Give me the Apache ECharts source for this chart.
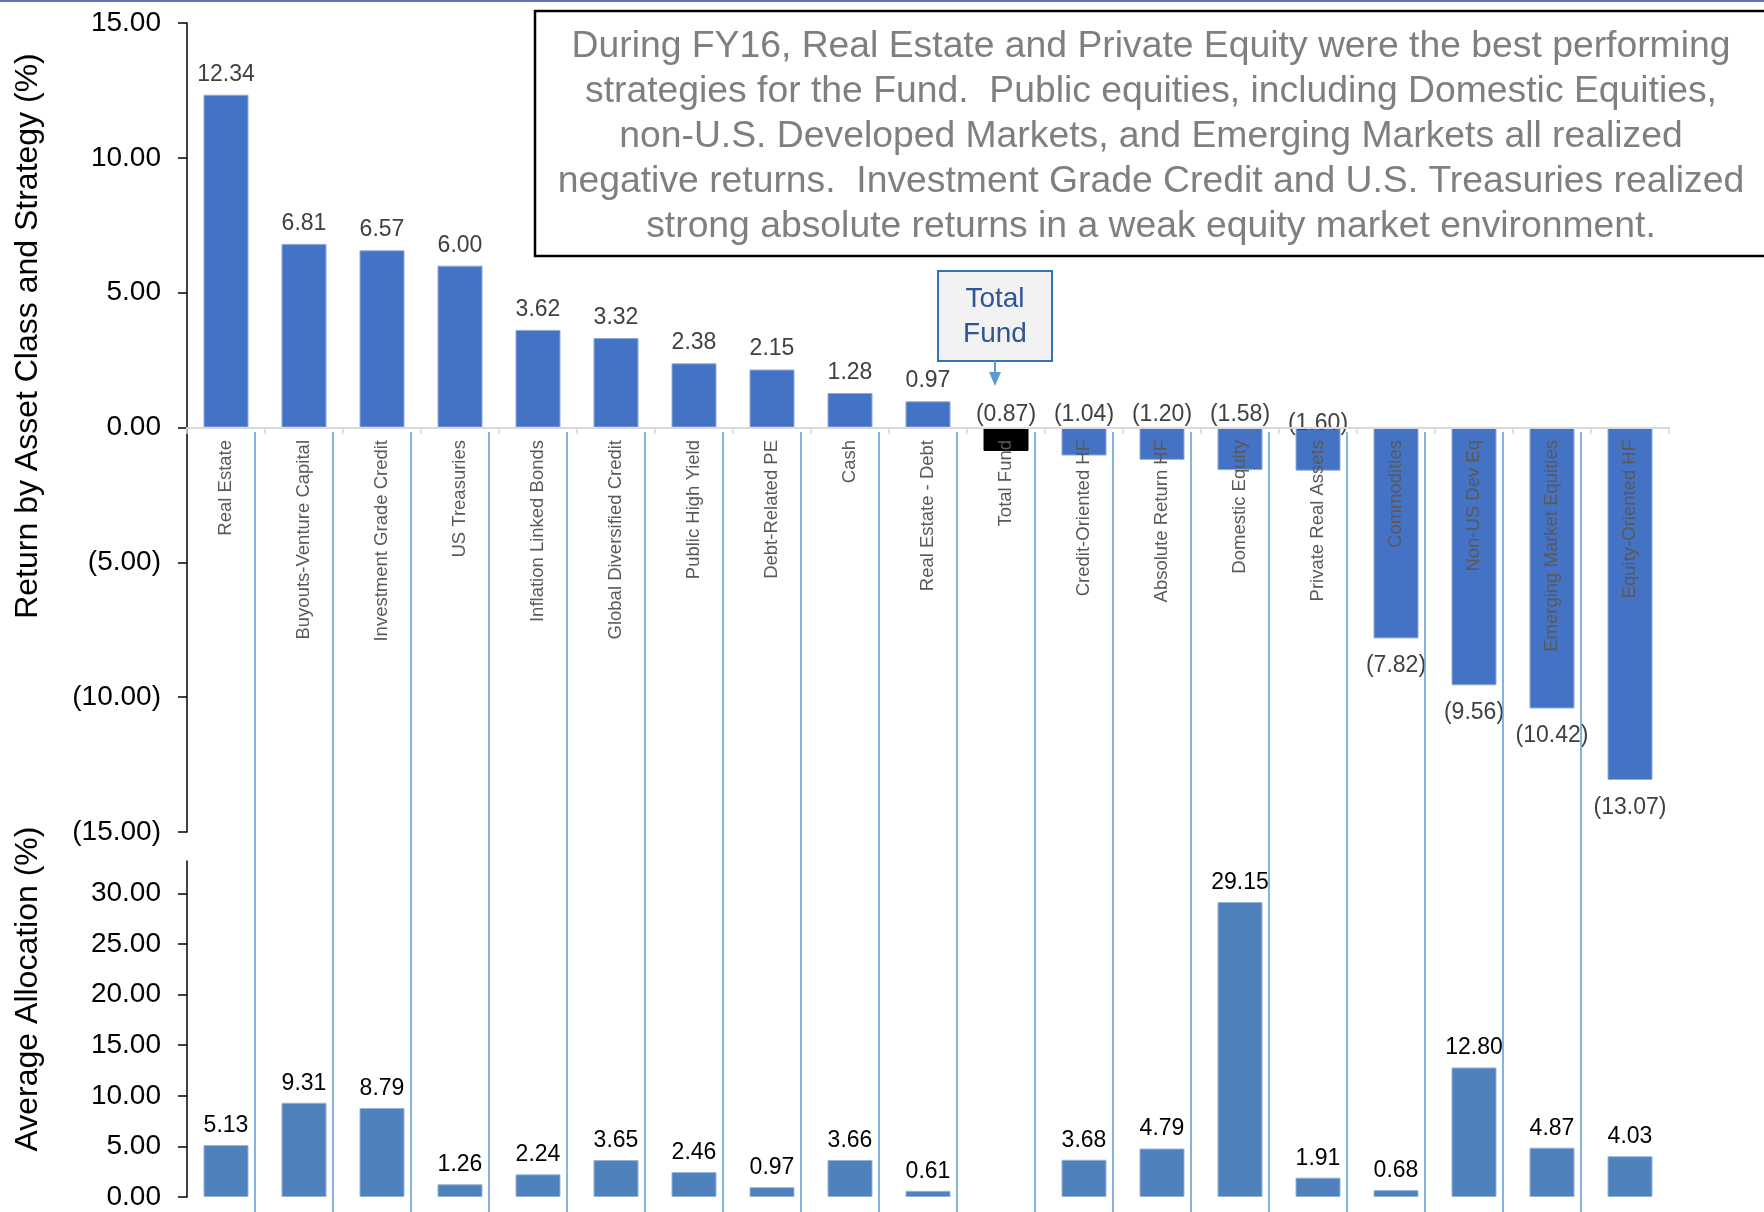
<!DOCTYPE html>
<html>
<head>
<meta charset="utf-8">
<script src="https://cdn.jsdelivr.net/npm/echarts@6/dist/echarts.min.js"></script>
<style>
  html, body { margin: 0; padding: 0; background: #fff; }
  #main { width: 1764px; height: 1212px; }
</style>
</head>
<body>
<div id="main"></div>
<script>
var FONT = '"Liberation Sans", Arial, sans-serif';

// categories, in chart order
var categories = [
  'Real Estate', 'Buyouts-Venture Capital', 'Investment Grade Credit', 'US Treasuries',
  'Inflation Linked Bonds', 'Global Diversified Credit', 'Public High Yield', 'Debt-Related PE',
  'Cash', 'Real Estate - Debt', 'Total Fund', 'Credit-Oriented HF', 'Absolute Return HF',
  'Domestic Equity', 'Private Real Assets', 'Commodities', 'Non-US Dev Eq',
  'Emerging Market Equities', 'Equity-Oriented HF'
];
// FY16 return (%)
var returns = [12.34, 6.81, 6.57, 6.00, 3.62, 3.32, 2.38, 2.15, 1.28, 0.97,
  -0.87, -1.04, -1.20, -1.58, -1.60, -7.82, -9.56, -10.42, -13.07];
// average allocation (%)
var allocation = [5.13, 9.31, 8.79, 1.26, 2.24, 3.65, 2.46, 0.97, 3.66, 0.61,
  null, 3.68, 4.79, 29.15, 1.91, 0.68, 12.80, 4.87, 4.03];
var allocTicks = [0, 5, 10, 15, 20, 25, 30];
var noteText = [
  'During FY16, Real Estate and Private Equity were the best performing',
  'strategies for the Fund.  Public equities, including Domestic Equities,',
  'non-U.S. Developed Markets, and Emerging Markets all realized',
  'negative returns.  Investment Grade Credit and U.S. Treasuries realized',
  'strong absolute returns in a weak equity market environment.'
];
var totalName = 'Total Fund';

function fmt(v) {
  return v < 0 ? '(' + Math.abs(v).toFixed(2) + ')' : v.toFixed(2);
}

var returnData = returns.map(function (v, i) {
  var item = { value: v };
  if (categories[i] === totalName) item.itemStyle = { color: '#000000', borderColor: '#000000' };
  if (v < 0 && v > -2) {
    // small losses: label sits above the zero line
    item.label = { position: 'top', distance: 1 };
    if (categories[i] === 'Private Real Assets') item.label.offset = [0, 9];
  } else if (v < 0) {
    item.label = { position: 'bottom', distance: 16 };
  }
  return item;
});

var chart = echarts.init(document.getElementById('main'));
chart.setOption({
  animation: false,
  backgroundColor: '#ffffff',
  textStyle: { fontFamily: FONT },
  grid: [
    { left: 187, width: 1482, top: 23, height: 809 },   // returns
    { left: 187, width: 1482, top: 861, height: 336 },  // allocation
    { left: 177, width: 1482, top: 432, bottom: 0 },    // divider lines
    { left: 187, width: 1482, top: 23, height: 405 }    // category axis at zero
  ],
  xAxis: [
    {
      gridIndex: 0, type: 'category', data: categories,
      axisLine: { show: false }, axisTick: { show: false }, axisLabel: { show: false },
      splitLine: { show: false }
    },
    {
      gridIndex: 1, type: 'category', data: categories,
      axisLine: { show: false }, axisTick: { show: false }, axisLabel: { show: false },
      splitLine: { show: false }
    },
    {
      gridIndex: 2, type: 'category', data: categories, z: 3,
      axisLine: { show: false }, axisTick: { show: false }, axisLabel: { show: false },
      splitLine: {
        show: true, interval: 0, showMinLine: false, showMaxLine: false,
        lineStyle: { color: '#5B9BD5', width: 1.5 }
      }
    },
    {
      gridIndex: 3, type: 'category', data: categories, z: 10,
      axisLine: { show: true, lineStyle: { color: '#D9D9D9', width: 2 } },
      axisTick: { show: true, length: 6, lineStyle: { color: '#D9D9D9', width: 1.5 } },
      axisLabel: { interval: 0, rotate: 90, margin: 12, fontSize: 18.5, color: '#595959', fontFamily: FONT },
      splitLine: { show: false }
    }
  ],
  yAxis: [
    {
      gridIndex: 0, type: 'value', min: -15, max: 15, interval: 5,
      axisLine: { show: true, lineStyle: { color: '#000', width: 1.5 } },
      axisTick: { show: true, length: 9, lineStyle: { color: '#000', width: 1.5 } },
      axisLabel: { margin: 26, fontSize: 28, color: '#000', fontFamily: FONT, formatter: fmt },
      splitLine: { show: false }
    },
    {
      gridIndex: 1, type: 'value', min: 0, max: 33.2,
      axisLine: { show: true, lineStyle: { color: '#000', width: 1.5 } },
      axisTick: { show: true, length: 9, customValues: allocTicks, lineStyle: { color: '#000', width: 1.5 } },
      axisLabel: {
        margin: 26, fontSize: 28, color: '#000', fontFamily: FONT, customValues: allocTicks,
        formatter: function (v) { return v.toFixed(2); }
      },
      splitLine: { show: false }
    },
    { gridIndex: 2, type: 'value', show: false },
    { gridIndex: 3, type: 'value', show: false }
  ],
  series: [
    {
      name: 'Return', type: 'bar', xAxisIndex: 0, yAxisIndex: 0, barWidth: 45,
      data: returnData,
      itemStyle: { color: '#4472C4', borderColor: '#8FAADC', borderWidth: 1 },
      label: {
        show: true, position: 'top', distance: 9, fontSize: 23, color: '#404040', fontFamily: FONT,
        formatter: function (p) { return fmt(p.value); }
      }
    },
    {
      name: 'Allocation', type: 'bar', xAxisIndex: 1, yAxisIndex: 1, barWidth: 45,
      data: allocation,
      itemStyle: { color: '#4F81BD', borderColor: '#95B3D7', borderWidth: 1 },
      label: {
        show: true, position: 'top', distance: 8, fontSize: 23, color: '#000', fontFamily: FONT,
        formatter: function (p) { return p.value == null ? '' : p.value.toFixed(2); }
      }
    }
  ],
  graphic: [
    { type: 'rect', left: 0, top: 0, shape: { width: 1764, height: 2 }, style: { fill: '#6274B5' } },
    {
      type: 'text', x: 28, y: 336, rotation: Math.PI / 2,
      style: { text: 'Return by Asset Class and Strategy (%)', font: '32px ' + FONT, fill: '#000', align: 'center', verticalAlign: 'middle' }
    },
    {
      type: 'text', x: 28, y: 989, rotation: Math.PI / 2,
      style: { text: 'Average Allocation (%)', font: '32px ' + FONT, fill: '#000', align: 'center', verticalAlign: 'middle' }
    },
    {
      type: 'rect', shape: { x: 535, y: 11, width: 1240, height: 245 }, z: 20,
      style: { fill: '#fff', stroke: '#000', lineWidth: 2.5 }
    },
    {
      type: 'text', x: 1151, y: 137, z: 21,
      style: { text: noteText.join('\n'), font: '37.3px ' + FONT, fill: '#7F7F7F', align: 'center', verticalAlign: 'middle', lineHeight: 45 }
    },
    {
      type: 'rect', shape: { x: 938, y: 271, width: 114, height: 90 }, z: 20,
      style: { fill: '#F2F2F2', stroke: '#2E75B6', lineWidth: 2 }
    },
    {
      type: 'text', x: 995, y: 317, z: 21,
      style: { text: 'Total\nFund', font: '28px ' + FONT, fill: '#2F5597', align: 'center', verticalAlign: 'middle', lineHeight: 35 }
    },
    {
      type: 'line', z: 20, shape: { x1: 995, y1: 361, x2: 995, y2: 374 },
      style: { stroke: '#5B9BD5', lineWidth: 2 }
    },
    {
      type: 'polygon', z: 20, shape: { points: [[989, 372], [1001, 372], [995, 386]] },
      style: { fill: '#5B9BD5' }
    }
  ]
});
</script>
</body>
</html>
